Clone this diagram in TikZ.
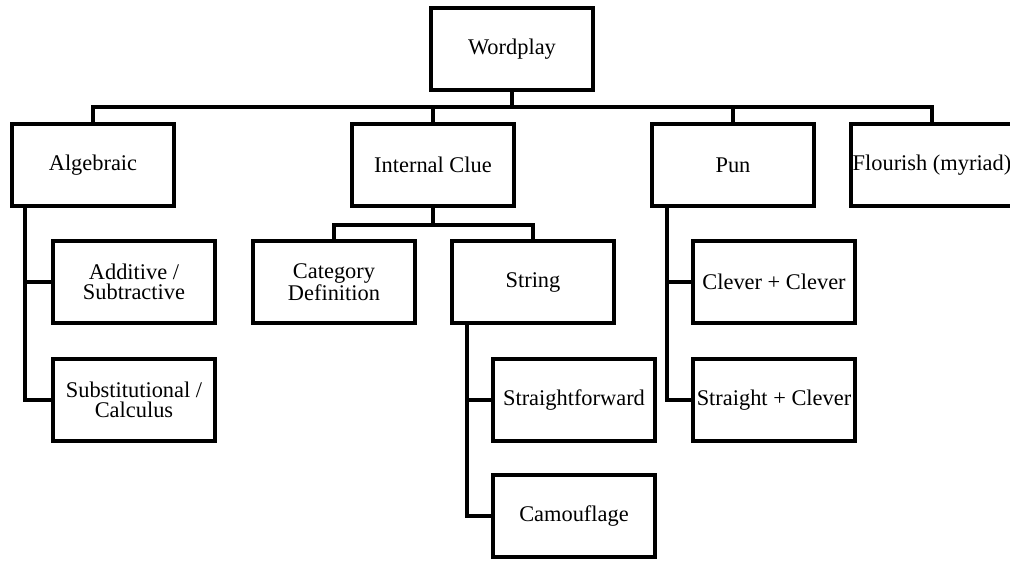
\documentclass[tikz,border=0pt]{standalone}
\usepackage{fontspec}
\setmainfont{Liberation Serif}
\begin{document}
\begin{tikzpicture}[x=0.5pt,y=-0.5pt]
		\tikzstyle{Box} = [rectangle, minimum width=81pt, minimum height=41pt, inner xsep=0pt, align=center, text centered, draw=black, line width=2pt, font=\fontsize{11.2}{10.3}\selectfont]
		\tikzstyle{link} = [line width=2pt]
		\useasboundingbox (0,0) rectangle (1010,561);
		
		\node (wordplay) [Box] at (512,49) {Wordplay};
		\node (algebraic) [Box] at (93,165) {Algebraic};
		\node (internal) [Box] at (433,165) {Internal Clue};
		\node (pun) [Box] at (733,165) {Pun};
		\node (flourish) [Box] at (932,165) {Flourish (myriad)};
		\node (additive) [Box] at (134,282) {Additive /\\ Subtractive};
		\node (substitutional) [Box] at (134,400) {Substitutional /\\ Calculus};
		\node (category) [Box] at (334,282) {Category\\ Definition};
		\node (string) [Box] at (533,282) {String};
		\node (straightforward) [Box] at (574,400) {Straightforward};
		\node (camouflage) [Box] at (574,516) {Camouflage};
		\node (clever) [Box] at (774,282) {Clever + Clever};
		\node (straight) [Box] at (774,400) {Straight + Clever};
		
		\coordinate (bus) at (0,107);
		\coordinate (icbus) at (0,225);
		\coordinate (algstem) at ([xshift=7.5pt]algebraic.south west);
		\coordinate (stringstem) at ([xshift=8.5pt]string.south west);
		\coordinate (punstem) at ([xshift=8.5pt]pun.south west);
		
		\draw [link] (algebraic.north) |- (bus -| flourish.north) -- (flourish.north);
		\draw [link] (wordplay.south) -- (wordplay.south |- bus);
		\draw [link] (internal.north) -- (internal.north |- bus);
		\draw [link] (pun.north) -- (pun.north |- bus);
		
		\draw [link] (category.north) |- (icbus -| string.north) -- (string.north);
		\draw [link] (internal.south) -- (internal.south |- icbus);
		
		\draw [link] (algstem) |- (substitutional.west);
		\draw [link] (additive.west) -- (additive.west -| algstem);
		\draw [link] (stringstem) |- (camouflage.west);
		\draw [link] (straightforward.west) -- (straightforward.west -| stringstem);
		\draw [link] (punstem) |- (straight.west);
		\draw [link] (clever.west) -- (clever.west -| punstem);
		\end{tikzpicture}
\end{document}
